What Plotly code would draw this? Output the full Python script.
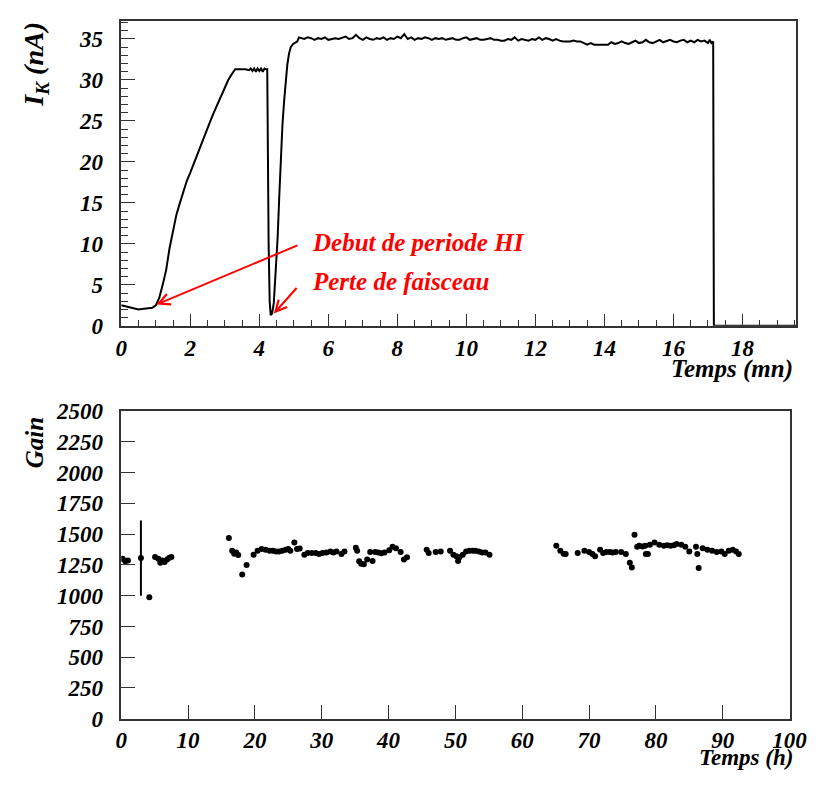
import plotly.graph_objects as go

# ---------------- Top panel: cathode current vs time (mn) ----------------
t_mn = [0.0, 0.1, 0.2, 0.3, 0.4, 0.5, 0.6, 0.7, 0.8, 0.9, 1.0, 1.1, 1.2, 1.3, 1.4,
        1.5, 1.6, 1.7, 1.8, 1.9, 2.0, 2.1, 2.2, 2.3, 2.4, 2.5, 2.6, 2.7, 2.8, 2.9,
        3.0, 3.1, 3.2, 3.3, 3.4, 3.5, 3.6, 3.7, 3.75, 3.8, 3.85, 3.9, 3.95, 4.0,
        4.05, 4.1, 4.15, 4.2, 4.23, 4.27, 4.30, 4.33, 4.37, 4.42, 4.47, 4.53, 4.58,
        4.62, 4.67, 4.72, 4.77, 4.81, 4.86, 4.91, 4.98, 5.05, 5.1, 5.15,
        5.2, 5.3, 5.4, 5.5, 5.6, 5.7, 5.8, 5.9, 6.0,
        6.1, 6.2, 6.3, 6.4, 6.5, 6.6, 6.7, 6.8, 6.9, 7.0,
        7.1, 7.2, 7.3, 7.4, 7.5, 7.6, 7.7, 7.8, 7.9, 8.0,
        8.1, 8.2, 8.3, 8.4, 8.5, 8.6, 8.7, 8.8, 8.9, 9.0,
        9.1, 9.2, 9.3, 9.4, 9.5, 9.6, 9.7, 9.8, 9.9, 10.0,
        10.1, 10.2, 10.3, 10.4, 10.5, 10.6, 10.7, 10.8, 10.9, 11.0,
        11.1, 11.2, 11.3, 11.4, 11.5, 11.6, 11.7, 11.8, 11.9, 12.0,
        12.1, 12.2, 12.3, 12.4, 12.5, 12.6, 12.7, 12.8, 12.9, 13.0,
        13.1, 13.2, 13.3, 13.4, 13.5, 13.6, 13.7, 13.8, 13.9, 14.0,
        14.1, 14.2, 14.3, 14.4, 14.5, 14.6, 14.7, 14.8, 14.9, 15.0,
        15.1, 15.2, 15.3, 15.4, 15.5, 15.6, 15.7, 15.8, 15.9, 16.0,
        16.1, 16.2, 16.3, 16.4, 16.5, 16.6, 16.7, 16.8, 16.9, 17.0,
        17.05, 17.1, 17.15, 17.17, 18.0, 19.0, 19.56]
i_k = [2.5, 2.4, 2.35, 2.2, 2.1, 2.0, 2.05, 2.1, 2.15, 2.2, 2.5, 3.4, 5.0, 6.8, 9.5,
       11.8, 13.6, 15.0, 16.5, 17.7, 18.7, 19.8, 20.9, 21.9, 23.1, 24.3, 25.2, 26.2, 27.2, 28.2,
       29.2, 30.0, 30.7, 31.3, 31.3, 31.3, 31.3, 31.2, 31.4, 31.1, 31.4, 31.0, 31.4, 31.1,
       31.4, 31.0, 31.4, 31.3, 31.3, 10.0, 3.0, 1.3, 1.5, 2.8, 6.0, 10.7, 16.0,
       20.5, 24.5, 27.5, 30.0, 31.8, 33.2, 34.0, 34.4, 34.6, 34.7, 35.2,
       35.1, 35.0, 35.2, 35.1, 34.9, 35.1, 35.0, 35.2, 34.9,
       35.0, 35.1, 35.0, 35.2, 35.3, 35.0, 35.1, 35.5, 35.1, 34.9,
       35.2, 35.0, 34.9, 35.1, 35.0, 35.2, 34.9, 35.1, 35.0, 35.3,
       35.1, 35.6, 35.0, 35.2, 34.9, 35.1, 35.0, 35.2, 35.1, 34.9,
       35.1, 35.0, 35.1, 34.9, 35.0, 35.1, 34.9, 34.9, 35.1, 35.2,
       34.9, 35.0, 35.1, 34.9, 34.9, 35.0, 35.1, 34.9, 34.9, 34.8,
       34.8, 35.0, 34.9, 35.2, 34.8, 35.0, 34.9, 34.8, 35.0, 34.9,
       35.2, 34.9, 35.1, 35.0, 34.8, 35.0, 34.8, 34.7, 34.7, 34.7,
       34.8, 34.7, 34.7, 34.5, 34.3, 34.5, 34.3, 34.3, 34.3, 34.3,
       34.3, 34.6, 34.4, 34.5, 34.7, 34.5, 34.4, 34.6, 34.8, 34.5,
       34.6, 34.9, 34.6, 34.5, 34.7, 34.9, 34.6, 34.8, 34.9, 34.7,
       34.6, 34.8, 34.9, 34.6, 34.8, 34.6, 34.9, 34.7, 34.8, 34.5,
       34.9, 34.5, 34.7, 0.0, 0.0, 0.0, 0.0]

# ---------------- Bottom panel: gain vs time (h) ----------------
t_h = [0.2, 0.6, 1.0, 4.2, 5.06, 5.55, 5.84, 6.16, 6.48, 6.86, 7.2, 7.5,
       16.1, 16.6, 16.9, 17.2, 17.5, 18.1, 18.75, 19.8, 20.4, 21.0, 21.6, 22.2,
       22.7, 23.15, 23.6, 24.1, 24.6, 25.0, 25.3, 25.9, 26.3, 26.7, 27.4, 27.9,
       28.5, 29.1, 29.6, 30.1, 30.7, 31.3, 31.75, 32.2, 32.95, 33.4,
       35.1, 35.3, 35.6, 35.9, 36.3, 36.8, 37.25, 37.6, 38.0, 38.45, 38.9, 39.4,
       40.1, 40.6, 41.1, 41.8, 42.3, 42.75, 45.7, 46.0, 47.05, 47.8, 49.2, 49.7,
       50.15, 50.4, 50.6, 51.1, 51.6, 52.1, 52.6, 53.0, 53.5, 54.0, 54.5, 55.1,
       65.1, 65.7, 66.2, 66.5, 68.3, 69.3, 70.0, 70.5, 70.9, 71.65, 72.1, 72.6,
       73.1, 73.5, 74.0, 74.8, 75.5, 76.1, 76.4, 76.8, 77.2, 77.5, 78.0, 78.4,
       78.5, 78.8, 79.1, 79.8, 80.5, 81.2, 81.7, 82.2, 82.7, 83.1, 83.8, 84.4,
       85.0, 86.0, 86.2, 86.4, 87.0, 87.7, 88.4, 89.1, 89.8, 90.3, 90.9, 91.5,
       92.0, 92.4]
gain = [1300, 1280, 1285, 987, 1315, 1300, 1268, 1286, 1273, 1294, 1307, 1315,
        1469, 1365, 1340, 1350, 1330, 1172, 1250, 1333, 1365, 1380, 1372, 1365,
        1365, 1359, 1359, 1365, 1372, 1380, 1365, 1432, 1380, 1384, 1333, 1346,
        1346, 1346, 1338, 1346, 1351, 1359, 1351, 1359, 1338, 1359,
        1390, 1365, 1280, 1260, 1255, 1294, 1354, 1281, 1354, 1350, 1345, 1350,
        1369, 1398, 1385, 1354, 1294, 1312, 1372, 1346, 1354, 1359, 1365, 1333,
        1320, 1281, 1312, 1333, 1359, 1365, 1365, 1365, 1359, 1350, 1350, 1333,
        1406, 1365, 1340, 1338, 1346, 1365, 1354, 1338, 1320, 1372, 1346, 1354,
        1354, 1350, 1354, 1354, 1338, 1268, 1229, 1495, 1398, 1406, 1400, 1406,
        1338, 1338, 1414, 1432, 1414, 1406, 1410, 1406, 1410, 1419, 1414, 1398,
        1359, 1398, 1338, 1224, 1385, 1372, 1365, 1354, 1359, 1338, 1365, 1372,
        1359, 1338]
err_t = [2.94]
err_gain = [1305]
err_size = [305]

top_xticks = [0, 2, 4, 6, 8, 10, 12, 14, 16, 18]
top_yticks = [0, 5, 10, 15, 20, 25, 30, 35]
bot_xticks = [0, 10, 20, 30, 40, 50, 60, 70, 80, 90, 100]
bot_yticks = [0, 250, 500, 750, 1000, 1250, 1500, 1750, 2000, 2250, 2500]

FONT = "Liberation Serif"
OFF = 8            # default body margin of the html page
W, H = 834 - 2 * OFF, 793 - 2 * OFF
TXT = "#000000"
FRAME = "#333333"

fig = go.Figure()
fig.add_trace(go.Scatter(x=t_mn, y=i_k, mode="lines",
                         line=dict(color="black", width=2),
                         xaxis="x", yaxis="y", showlegend=False))
fig.add_trace(go.Scatter(x=t_h, y=gain, mode="markers",
                         marker=dict(color="black", size=6),
                         xaxis="x2", yaxis="y2", showlegend=False))
fig.add_trace(go.Scatter(x=err_t, y=err_gain, mode="markers",
                         marker=dict(color="black", size=6),
                         error_y=dict(type="data", array=err_size, color="black",
                                      thickness=2, width=0),
                         xaxis="x2", yaxis="y2", showlegend=False))

tickfont = dict(family=FONT, size=23, color=TXT, weight="bold", style="italic")


def px_x(p):
    return min(1.0, max(0.0, (p - OFF) / W))


def px_y(p):
    return min(1.0, max(0.0, 1 - (p - OFF) / H))


common = dict(showline=True, linecolor=FRAME, linewidth=1.5, mirror=True,
              showgrid=False, zeroline=False, ticks="inside", tickcolor=FRAME,
              tickwidth=1, tickfont=tickfont)

fig.update_layout(
    width=W, height=H,
    margin=dict(l=0, r=0, t=0, b=0),
    paper_bgcolor="white", plot_bgcolor="white",
    xaxis=dict(domain=[px_x(118.5), px_x(814)], range=[0, 19.56],
               tickvals=top_xticks, ticklen=12, ticklabelstandoff=1,
               minor=dict(ticks="inside", dtick=0.5, ticklen=6, tickcolor=FRAME),
               anchor="y", **common),
    yaxis=dict(domain=[px_y(324), px_y(9)], range=[0, 37.2],
               tickvals=top_yticks, ticklen=14, ticklabelstandoff=12,
               minor=dict(ticks="inside", dtick=1, ticklen=7, tickcolor=FRAME),
               anchor="x", **common),
    xaxis2=dict(domain=[px_x(118.5), px_x(807)], range=[0, 100],
                tickvals=bot_xticks, ticklen=14, ticklabelstandoff=0,
                anchor="y2", **common),
    yaxis2=dict(domain=[px_y(730), px_y(412)], range=[0, 2500],
                tickvals=bot_yticks, ticklen=14, ticklabelstandoff=12,
                anchor="x2", **common),
)

title_font = dict(family=FONT, size=25, color=TXT, weight="bold", style="italic")
htitle_font = dict(family=FONT, size=23, color=TXT, weight="bold", style="italic")
ik_font = dict(family=FONT, size=28, color=TXT, weight="bold", style="italic")
red_font = dict(family=FONT, size=25, color="#ff0000", weight="bold", style="italic")

annotations = [
    dict(text="I<sub>K</sub> (nA)", x=px_x(30), y=px_y(54), xref="paper", yref="paper",
         textangle=-90, showarrow=False, font=ik_font, xanchor="center", yanchor="middle"),
    dict(text="Temps (mn)", x=px_x(813), y=px_y(369), xref="paper", yref="paper",
         showarrow=False, font=title_font, xanchor="right", yanchor="middle"),
    dict(text="Gain", x=px_x(30), y=px_y(445), xref="paper", yref="paper",
         textangle=-90, showarrow=False, font=title_font, xanchor="center", yanchor="middle"),
    dict(text="Temps (h)", x=px_x(813), y=0, xref="paper", yref="paper",
         showarrow=False, font=htitle_font, xanchor="right", yanchor="bottom"),
    dict(text="Debut de periode HI", x=5.46, y=10.2, xref="x", yref="y",
         showarrow=False, font=red_font, xanchor="left", yanchor="middle"),
    dict(text="Perte de faisceau", x=5.46, y=5.4, xref="x", yref="y",
         showarrow=False, font=red_font, xanchor="left", yanchor="middle"),
    dict(text="", x=1.02, y=2.6, ax=5.15, ay=9.9, xref="x", yref="y",
         axref="x", ayref="y", showarrow=True, arrowhead=5, arrowsize=1.1,
         arrowwidth=2, arrowcolor="#ff0000"),
    dict(text="", x=4.42, y=1.5, ax=5.12, ay=4.8, xref="x", yref="y",
         axref="x", ayref="y", showarrow=True, arrowhead=5, arrowsize=1.1,
         arrowwidth=2, arrowcolor="#ff0000"),
]
fig.update_layout(annotations=annotations)

fig.write_html("out.html", config={"displayModeBar": False})
